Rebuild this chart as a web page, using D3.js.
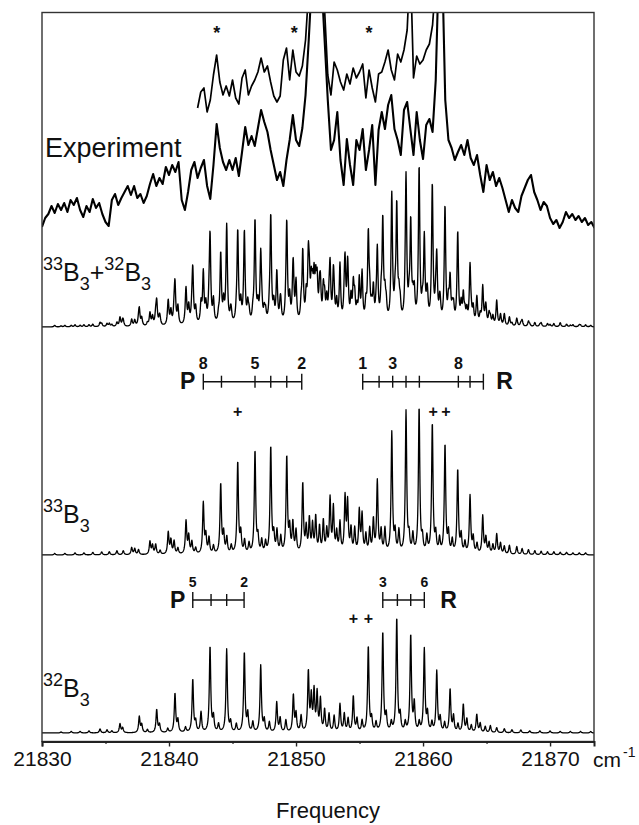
<!DOCTYPE html>
<html>
<head>
<meta charset="utf-8">
<script src="https://cdn.jsdelivr.net/npm/d3@7"></script>
<style>
  body { margin: 0; background: #fff; }
  text { font-family: "Liberation Sans", Arial, Helvetica, sans-serif; fill: #111; }
</style>
</head>
<body>
<div id="chart"></div>
<script>
// frequency axis (cm-1)
var majorTicks = [21830, 21840, 21850, 21860, 21870];
var minorTicks = [21835, 21845, 21855, 21865];

// experiment, sampled every 0.25 cm-1 from 21830
var expStart = 21830, expStep = 0.25;
var expTrace = [
  6.5, 11, 13, 17, 13.5, 18, 15, 18.5, 14, 20,
  17.5, 21, 15, 11.5, 17, 14, 20.5, 16, 18.5, 13,
  9, 7, 20, 23, 17.5, 21, 24, 27, 22.5, 27,
  21, 23, 18.5, 22, 28, 33, 27, 31, 28, 36.5,
  32.5, 37.5, 34, 39, 20, 15, 24, 35, 39, 31,
  36, 40, 27, 20.5, 37.5, 58, 46, 39, 35, 40,
  35, 41, 32, 44, 56.5, 47.5, 52, 47, 56, 65,
  59, 54, 45, 37.5, 30, 34, 27, 40, 50, 62.5,
  50, 47, 56, 72.5, 100, 130, 150, 150, 130, 100,
  70, 45, 50, 64, 40, 27.5, 50.5, 37.5, 27.5, 50,
  45, 55.5, 35, 45, 57.5, 27.5, 55, 64, 55.5, 67.5,
  72.5, 55.5, 50, 42.5, 65, 69, 55.5, 42.5, 64, 50,
  40.5, 57.5, 60.5, 54, 80, 140, 140, 70, 50, 46,
  40, 44, 47.5, 42.5, 50, 41, 37.5, 42.5, 32.5, 24,
  37.5, 30, 34, 27, 31, 26, 20, 14, 20, 16,
  14, 22, 26, 30, 32.5, 24, 20, 15, 19, 17,
  11, 8, 10, 6, 9, 14, 11, 13, 10, 12,
  9, 11, 7.5, 9, 6
];
// expanded section of the experiment, same sampling, from 21842.25
var expZoomStart = 21842.25;
var expZoom = [
  66, 74, 76, 64, 70, 82.5, 92.5, 79, 72.5, 77,
  72, 80, 71, 68, 81, 85, 72.5, 77, 80, 84,
  91, 84, 87, 79, 72, 69, 72, 90, 96, 80,
  95, 84, 82, 87, 100, 125, 160, 180, 180, 150,
  115, 82.5, 72.5, 89, 85, 79, 75, 83, 78, 86,
  81, 84, 88, 71, 85, 76, 69, 83, 84, 89,
  95, 85, 80, 93, 89, 95, 105, 140, 81, 92,
  88, 90, 95, 98, 107.5, 130, 160
];
var expStars = [21843.76, 21849.87, 21855.75];

// simulated 33B3 lines [frequency, intensity]
var lines33 = [
  [21831.0, 1.5], [21831.8, 1.5], [21832.6, 2], [21833.3, 2], [21834.0, 2.5], [21834.7, 3],
  [21835.3, 3], [21835.9, 4], [21836.4, 4], [21837.06, 7], [21837.3, 6], [21837.6, 5],
  [21838.5, 13], [21838.7, 9], [21838.95, 10], [21839.3, 4],
  [21839.94, 22], [21840.15, 14], [21840.4, 13], [21840.7, 6],
  [21841.34, 33], [21841.55, 18], [21841.8, 12], [21842.1, 6],
  [21842.7, 51], [21842.9, 18], [21843.15, 16], [21843.5, 8],
  [21844.07, 70], [21844.3, 20], [21844.55, 16], [21844.9, 8],
  [21845.41, 92], [21845.65, 20], [21845.95, 13], [21846.3, 10],
  [21846.77, 103], [21847.0, 16], [21847.3, 13], [21847.6, 11],
  [21848.01, 107], [21848.25, 18], [21848.5, 22], [21848.8, 16],
  [21849.27, 97], [21849.5, 24], [21849.75, 30], [21850.0, 22],
  [21850.53, 70], [21850.8, 25], [21851.05, 34], [21851.3, 28], [21851.55, 36],
  [21851.85, 26], [21852.15, 32], [21852.42, 22], [21852.68, 54], [21852.94, 45],
  [21853.2, 20], [21853.46, 30], [21853.86, 55], [21854.06, 50], [21854.33, 24],
  [21854.62, 24], [21854.98, 42], [21855.2, 38], [21855.5, 18], [21855.8, 24],
  [21856.09, 33], [21856.4, 72], [21856.7, 22], [21857.0, 24],
  [21857.54, 121], [21857.8, 20], [21858.1, 22],
  [21858.66, 142], [21858.9, 16], [21859.2, 18],
  [21859.69, 146], [21859.95, 14], [21860.3, 16],
  [21860.73, 130], [21861.0, 18], [21861.3, 14],
  [21861.73, 109], [21862.0, 20], [21862.3, 13],
  [21862.73, 84], [21863.0, 18], [21863.3, 11],
  [21863.7, 58], [21863.95, 16], [21864.25, 10],
  [21864.7, 38], [21864.95, 16], [21865.2, 11], [21865.5, 9],
  [21865.8, 20], [21866.1, 11], [21866.4, 8], [21866.8, 9],
  [21867.38, 8], [21867.8, 6], [21868.3, 5], [21868.8, 4], [21869.3, 3.5],
  [21869.8, 3], [21870.3, 3], [21870.8, 2.5], [21871.3, 2.5], [21871.8, 2],
  [21872.3, 2], [21872.8, 2]
];

// simulated 32B3 lines [frequency, intensity]
var lines32 = [
  [21831.5, 1], [21832.3, 1.5], [21833.0, 1.5], [21833.7, 2],
  [21834.57, 4], [21835.12, 3], [21835.5, 2], [21836.14, 9], [21836.35, 5],
  [21837.66, 16], [21837.85, 8], [21838.3, 3], [21839.03, 23], [21839.25, 8], [21839.9, 4],
  [21840.47, 39], [21840.7, 12], [21841.3, 5], [21841.87, 53], [21842.1, 10], [21842.52, 20],
  [21843.23, 86], [21843.5, 15], [21843.9, 8], [21844.54, 83], [21844.85, 10], [21845.3, 8],
  [21845.93, 80], [21846.2, 18], [21846.6, 10], [21847.22, 67], [21847.5, 12], [21847.9, 10],
  [21848.48, 30], [21848.75, 14], [21849.2, 12], [21849.79, 37], [21850.0, 18], [21850.4, 16],
  [21850.97, 60], [21851.2, 34], [21851.42, 40], [21851.66, 38], [21851.92, 32],
  [21852.25, 22], [21852.6, 18], [21853.0, 16], [21853.46, 28], [21853.8, 18], [21854.1, 13],
  [21854.51, 36], [21854.8, 13], [21855.2, 11], [21855.69, 86], [21855.95, 13], [21856.3, 9],
  [21856.83, 100], [21857.1, 16], [21857.5, 9], [21857.93, 114], [21858.2, 16], [21858.6, 9],
  [21859.03, 97], [21859.31, 28], [21859.7, 9], [21860.1, 83], [21860.35, 18], [21860.7, 9],
  [21861.08, 61], [21861.35, 14], [21861.7, 9], [21862.13, 43], [21862.4, 16], [21862.75, 8],
  [21863.17, 28], [21863.45, 13], [21863.8, 7], [21864.23, 18], [21864.5, 9], [21864.9, 6],
  [21865.3, 7], [21865.8, 5], [21866.4, 4], [21867.0, 3], [21867.7, 3], [21868.4, 2],
  [21869.2, 2], [21870.0, 2], [21870.8, 1.5], [21871.6, 1.5], [21872.4, 1.5], [21873.2, 1.5]
];

// assignment combs
var p33Ticks = [21842.70, 21844.13, 21846.77, 21848.01, 21849.27, 21850.45];
var p33Labels = [['8', 21842.70], ['5', 21846.77], ['2', 21850.45]];
var r33Ticks = [21855.25, 21856.54, 21857.61, 21858.66, 21859.71, 21862.78, 21863.70, 21864.75];
var r33Labels = [['1', 21855.25], ['3', 21857.61], ['8', 21862.78]];
var plus33 = [21845.41, 21860.79, 21861.81];

var p32Ticks = [21841.87, 21843.31, 21844.54, 21845.91];
var p32Labels = [['5', 21841.87], ['2', 21845.91]];
var r32Ticks = [21856.83, 21857.98, 21859.03, 21860.10];
var r32Labels = [['3', 21856.83], ['6', 21860.10]];
var plus32 = [21854.51, 21855.69];

const width = 639;
const height = 825;
const mLeft = 42, mRight = 594, mTop = 12.5, mBottom = 741.5;

const svg = d3.select('#chart')
    .append('svg')
    .attr('width', width)
    .attr('height', height);

var x = d3.scaleLinear()
    .domain([21830, 21873.46])
    .range([mLeft, mRight]);

// vertical scales, one per trace
var yExp = d3.scaleLinear().domain([0, 114]).range([240, 12]);
var ySum = d3.scaleLinear().domain([0, 150]).range([327, 177]);
var y33 = d3.scaleLinear().domain([0, 150]).range([555, 405]);
var y32 = d3.scaleLinear().domain([0, 150]).range([733, 583]);

svg.append('clipPath').attr('id', 'frame')
    .append('rect')
    .attr('x', mLeft).attr('y', mTop)
    .attr('width', mRight - mLeft).attr('height', mBottom - mTop);

// lorentzian sum over a fine grid
function spectrum(lines) {
    var gamma = 0.065, pts = [];
    var n = Math.round((21873.46 - 21830) / 0.02);
    for (var i = 0; i <= n; i++) {
        var f = 21830 + i * 0.02, s = 0;
        lines.forEach(function(l) {
            var d = f - l[0];
            s += l[1] * gamma * gamma / (d * d + gamma * gamma);
        });
        pts.push([f, s]);
    }
    return pts;
}

function sampled(start, vals) {
    return vals.map(function(v, i) { return [start + i * expStep, v]; });
}

var plot = svg.append('g').attr('clip-path', 'url(#frame)');

function trace(data, yScale, w) {
    plot.append('path')
        .datum(data)
        .attr('fill', 'none')
        .attr('stroke', '#000')
        .attr('stroke-width', w)
        .attr('stroke-linejoin', 'round')
        .attr('d', d3.line()
            .x(function(d) { return x(d[0]); })
            .y(function(d) { return yScale(d[1]); }));
}

trace(sampled(expStart, expTrace), yExp, 2.1);
trace(sampled(expZoomStart, expZoom), yExp, 1.7);
trace(spectrum(lines33.concat(lines32)), ySum, 1.35);
trace(spectrum(lines33), y33, 1.3);
trace(spectrum(lines32), y32, 1.3);

// frame
svg.append('rect')
    .attr('x', mLeft).attr('y', mTop)
    .attr('width', mRight - mLeft).attr('height', mBottom - mTop)
    .attr('fill', 'none')
    .attr('stroke', '#333')
    .attr('stroke-width', 1.4);

// x axis
var axis = svg.append('g')
    .attr('transform', 'translate(0,' + mBottom + ')')
    .call(d3.axisBottom(x).tickValues(majorTicks).tickSize(5).tickPadding(5)
        .tickFormat(d3.format('d')));
axis.select('.domain').attr('stroke', '#222').attr('stroke-width', 2);
axis.selectAll('.tick line').attr('stroke', '#222').attr('stroke-width', 1.4);
axis.selectAll('.tick text')
    .attr('font-size', 21)
    .attr('font-family', '"Liberation Sans", Arial, sans-serif')
    .attr('fill', '#111');

var minorAxis = svg.append('g')
    .attr('transform', 'translate(0,' + mBottom + ')')
    .call(d3.axisBottom(x).tickValues(minorTicks).tickSize(2.5).tickFormat(''));
minorAxis.select('.domain').remove();
minorAxis.selectAll('.tick line').attr('stroke', '#222').attr('stroke-width', 1.2);

var unit = svg.append('text').attr('x', 593).attr('y', 767).attr('font-size', 21).text('cm');
unit.append('tspan').attr('dx', 2).attr('dy', -10).attr('font-size', 14).text('-1');

svg.append('text')
    .attr('x', 328).attr('y', 818)
    .attr('text-anchor', 'middle')
    .attr('font-size', 22)
    .text('Frequency');

// trace labels
svg.append('text').attr('x', 45).attr('y', 157).attr('font-size', 27).text('Experiment');

function isoParts(t, mass) {
    t.append('tspan').attr('font-size', 18).attr('dy', -11).text(mass);
    t.append('tspan').attr('dy', 11).text('B');
    t.append('tspan').attr('font-size', 18).attr('dy', 9).text('3');
}
var sumLabel = svg.append('text').attr('x', 43).attr('y', 281).attr('font-size', 25);
isoParts(sumLabel, '33');
sumLabel.append('tspan').attr('dy', -9).text('+');
isoParts(sumLabel, '32');

isoParts(svg.append('text').attr('x', 43).attr('y', 523).attr('font-size', 25), '33');
isoParts(svg.append('text').attr('x', 43).attr('y', 697).attr('font-size', 25), '32');

// asterisks over the experiment
svg.selectAll('text.star')
    .data(expStars)
    .enter()
    .append('text')
    .attr('class', 'star')
    .attr('x', function(d) { return x(d); })
    .attr('y', 39)
    .attr('text-anchor', 'middle')
    .attr('font-size', 18)
    .attr('font-weight', 'bold')
    .text('*');

function comb(ticks, labels, yPos, numSize, letter, side, gap) {
    var g = svg.append('g');
    g.append('line')
        .attr('x1', x(ticks[0])).attr('x2', x(ticks[ticks.length - 1]))
        .attr('y1', yPos).attr('y2', yPos)
        .attr('stroke', '#111').attr('stroke-width', 1.4);
    g.selectAll('line.t')
        .data(ticks)
        .enter()
        .append('line')
        .attr('class', 't')
        .attr('x1', function(d) { return x(d); })
        .attr('x2', function(d) { return x(d); })
        .attr('y1', function(d, i) { return (i === 0 || i === ticks.length - 1) ? yPos - 8 : yPos - 6; })
        .attr('y2', function(d, i) { return (i === 0 || i === ticks.length - 1) ? yPos + 8 : yPos + 6; })
        .attr('stroke', '#111').attr('stroke-width', 1.4);
    g.selectAll('text.n')
        .data(labels)
        .enter()
        .append('text')
        .attr('class', 'n')
        .attr('x', function(d) { return x(d[1]); })
        .attr('y', yPos - 13)
        .attr('text-anchor', 'middle')
        .attr('font-size', numSize)
        .attr('font-weight', 'bold')
        .text(function(d) { return d[0]; });
    var lx = side < 0 ? x(ticks[0]) - gap : x(ticks[ticks.length - 1]) + gap;
    g.append('text')
        .attr('x', lx).attr('y', yPos + 7.5)
        .attr('text-anchor', side < 0 ? 'end' : 'start')
        .attr('font-size', 23)
        .attr('font-weight', 'bold')
        .text(letter);
}

comb(p33Ticks, p33Labels, 381.7, 16, 'P', -1, 8);
comb(r33Ticks, r33Labels, 381.7, 16, 'R', 1, 13);
comb(p32Ticks, p32Labels, 600, 14, 'P', -1, 7.5);
comb(r32Ticks, r32Labels, 600, 14, 'R', 1, 16);

function plusMarks(list, yBase) {
    svg.append('g').selectAll('text')
        .data(list)
        .enter()
        .append('text')
        .attr('x', function(d) { return x(d); })
        .attr('y', yBase)
        .attr('text-anchor', 'middle')
        .attr('font-size', 16)
        .attr('font-weight', 'bold')
        .text('+');
}
plusMarks(plus33, 417);
plusMarks(plus32, 624);
</script>
</body>
</html>
